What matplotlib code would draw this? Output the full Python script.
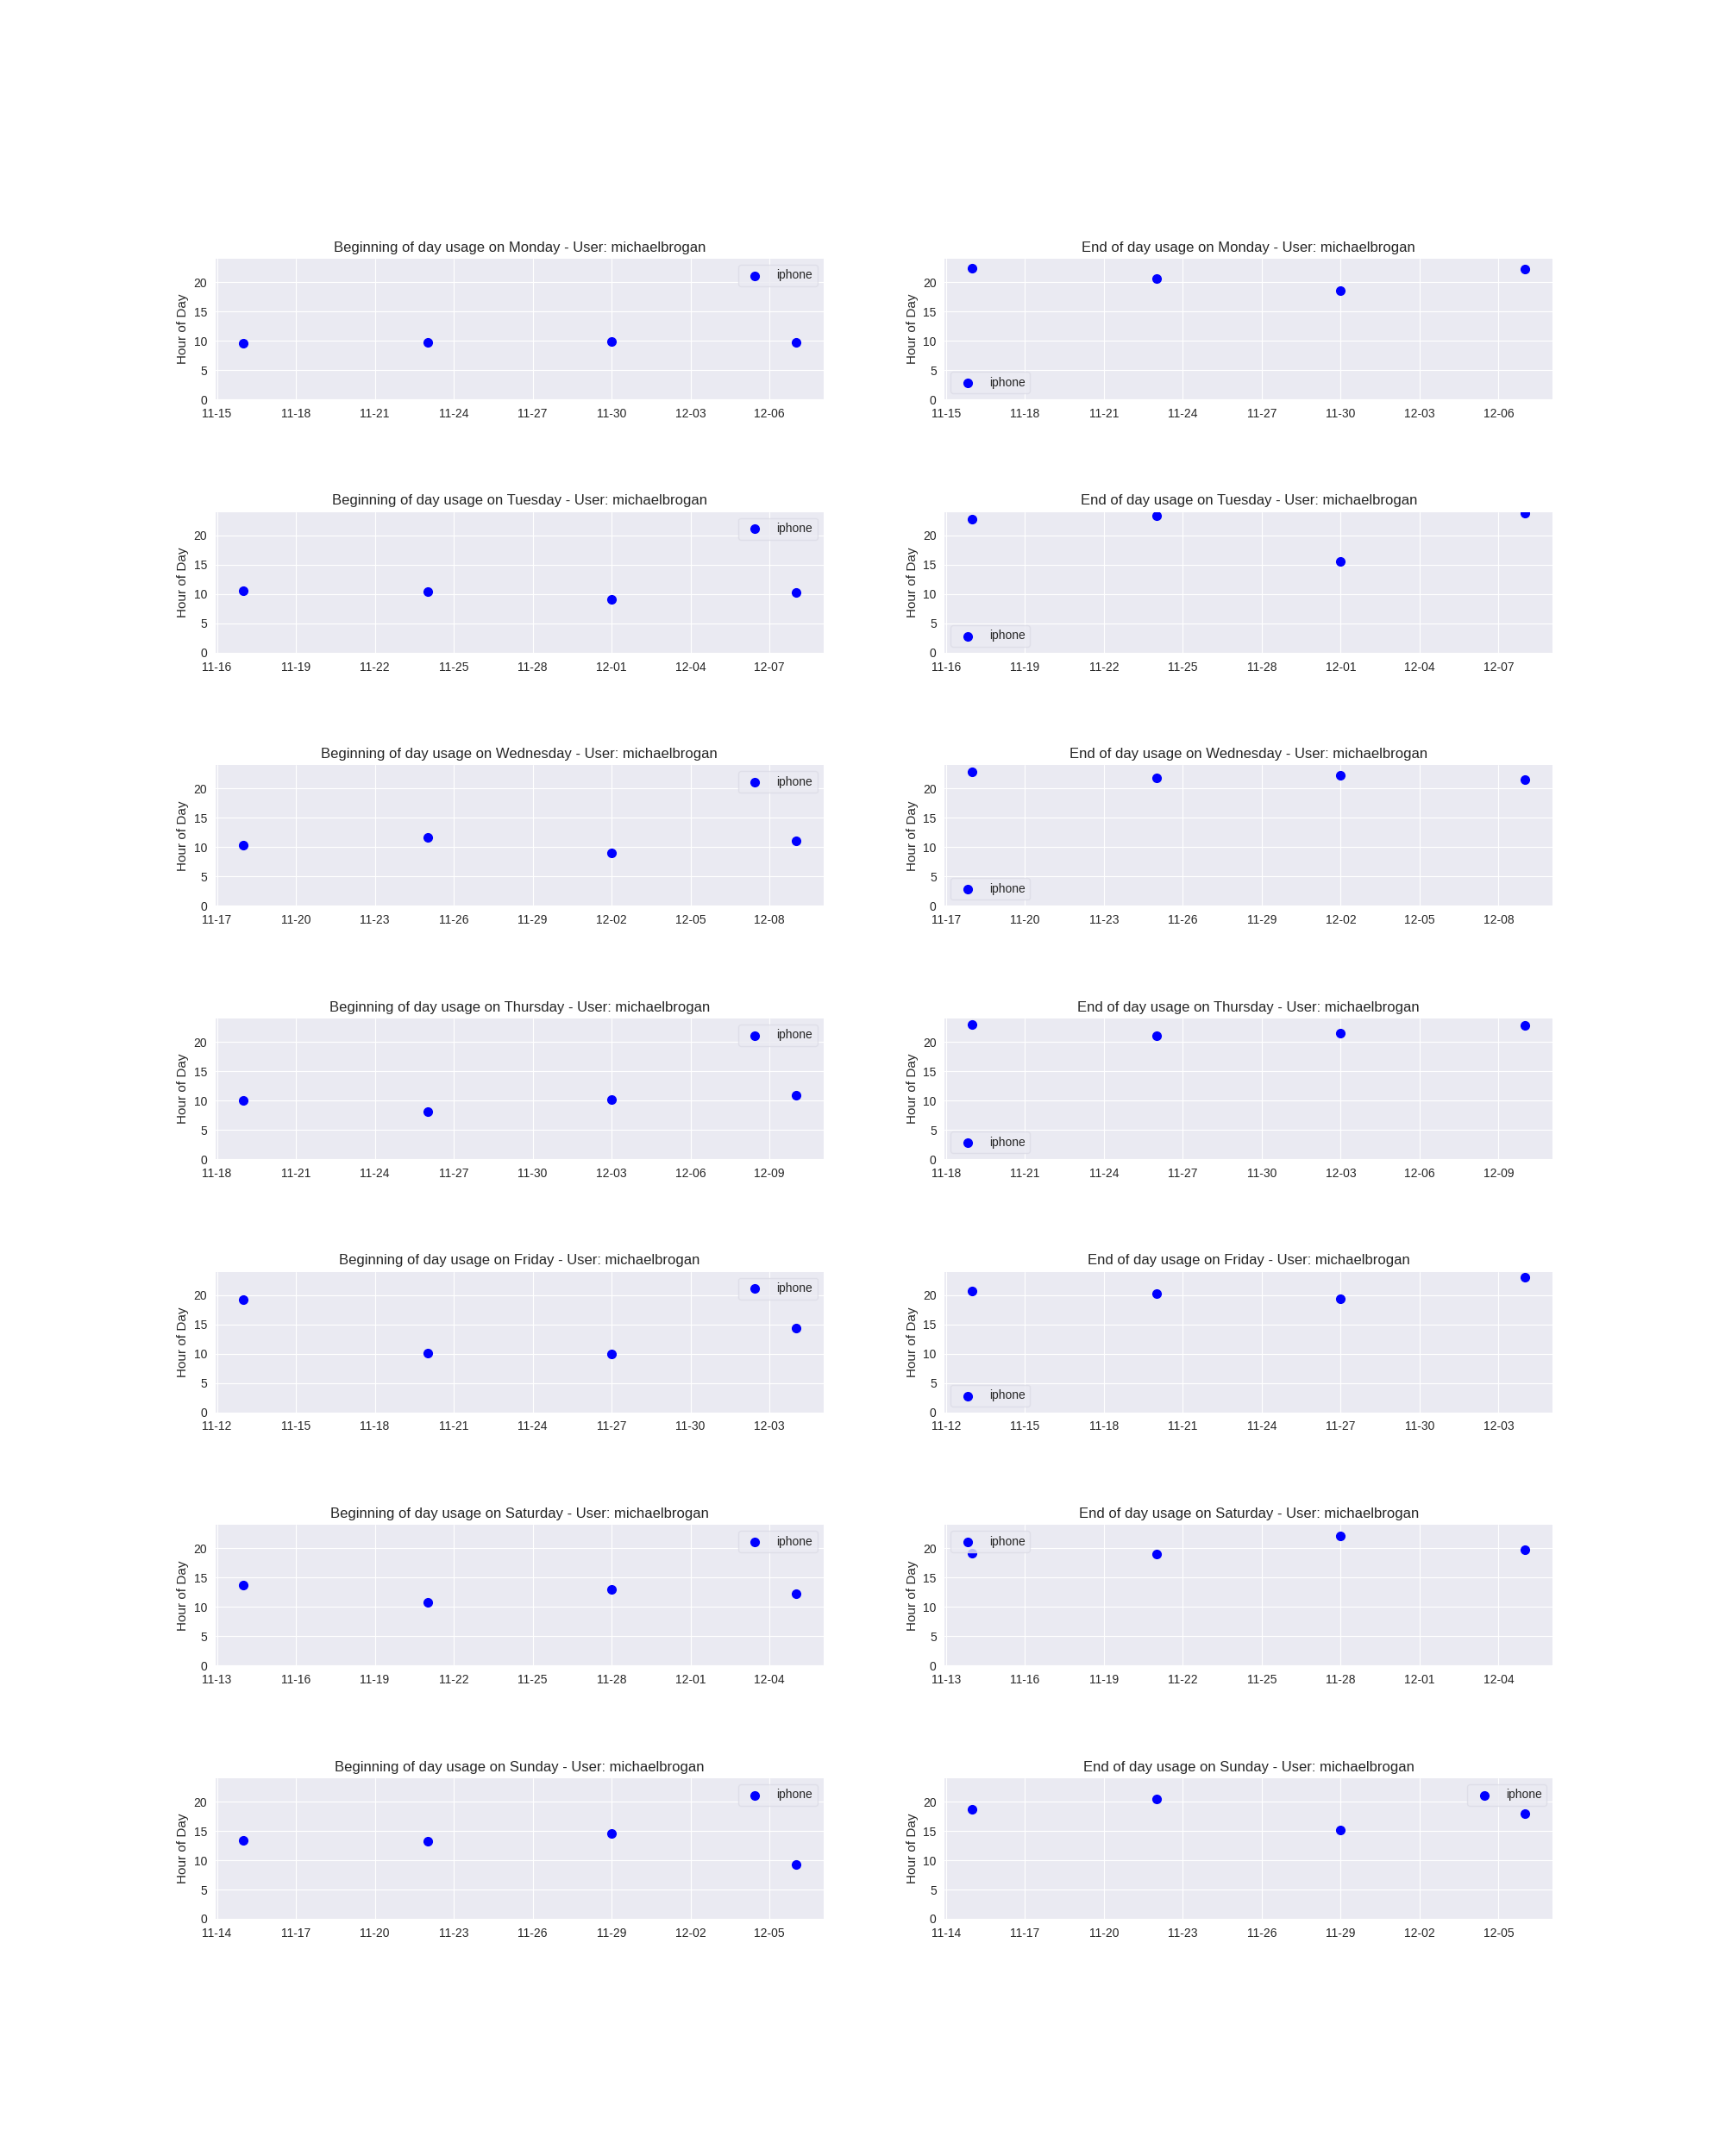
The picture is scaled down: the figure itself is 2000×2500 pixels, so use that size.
import pandas as pd
import matplotlib
matplotlib.use('Agg')
import matplotlib.pyplot as plt
import matplotlib.dates as mdates

plt.style.use('seaborn-v0_8-darkgrid')
plt.rcParams['font.family'] = ['Liberation Sans', 'DejaVu Sans']

user = 'michaelbrogan'
device = 'iphone'

days = ['Monday', 'Tuesday', 'Wednesday', 'Thursday', 'Friday', 'Saturday', 'Sunday']

# first date of each weekday (2015), then weekly
first_dates = ['2015-11-16', '2015-11-17', '2015-11-18', '2015-11-19',
               '2015-11-13', '2015-11-14', '2015-11-15']

begin_hours = [
    [9.56, 9.70, 9.95, 9.70],
    [10.54, 10.39, 9.07, 10.25],
    [10.34, 11.67, 9.01, 11.08],
    [10.02, 8.11, 10.17, 10.91],
    [19.26, 10.12, 9.98, 14.40],
    [13.68, 10.74, 12.94, 12.21],
    [13.40, 13.25, 14.63, 9.31],
]

end_hours = [
    [22.36, 20.59, 18.52, 22.17],
    [22.75, 23.33, 15.54, 23.87],
    [22.91, 21.87, 22.32, 21.58],
    [23.00, 21.08, 21.52, 22.85],
    [20.74, 20.29, 19.41, 23.10],
    [19.21, 19.01, 22.12, 19.75],
    [18.67, 20.39, 15.13, 17.94],
]

end_legend_loc = ['lower left', 'lower left', 'lower left', 'lower left',
                  'lower left', 'upper left', 'upper right']


def draw(ax, dates, hours, title, loc):
    ax.scatter(dates, hours, s=49, color='blue', label=device)
    ax.set_title(title, fontsize=12)
    ax.set_ylabel('Hour of Day', fontsize=11)
    ax.set_ylim(0, 24)
    ax.set_yticks([0, 5, 10, 15, 20])
    ticks = pd.date_range(dates[0] - pd.Timedelta(days=1), periods=8, freq='3D')
    ax.set_xticks(ticks)
    ax.xaxis.set_major_formatter(mdates.DateFormatter('%m-%d'))
    ax.tick_params(labelsize=10, pad=7)
    leg = ax.legend(loc=loc, frameon=True, fontsize=10, scatterpoints=1)
    leg.get_frame().set_edgecolor('#dcdce6')


fig, axes = plt.subplots(7, 2, figsize=(20, 25), dpi=100)
fig.subplots_adjust(left=0.125, right=0.9, top=0.88, bottom=0.11,
                    wspace=0.2, hspace=0.8)

for i, day in enumerate(days):
    dates = pd.date_range(first_dates[i], periods=4, freq='7D')
    draw(axes[i, 0], dates, begin_hours[i],
         'Beginning of day usage on %s - User: %s' % (day, user), 'upper right')
    draw(axes[i, 1], dates, end_hours[i],
         'End of day usage on %s - User: %s' % (day, user), end_legend_loc[i])

fig.savefig('out.png', dpi=100)
